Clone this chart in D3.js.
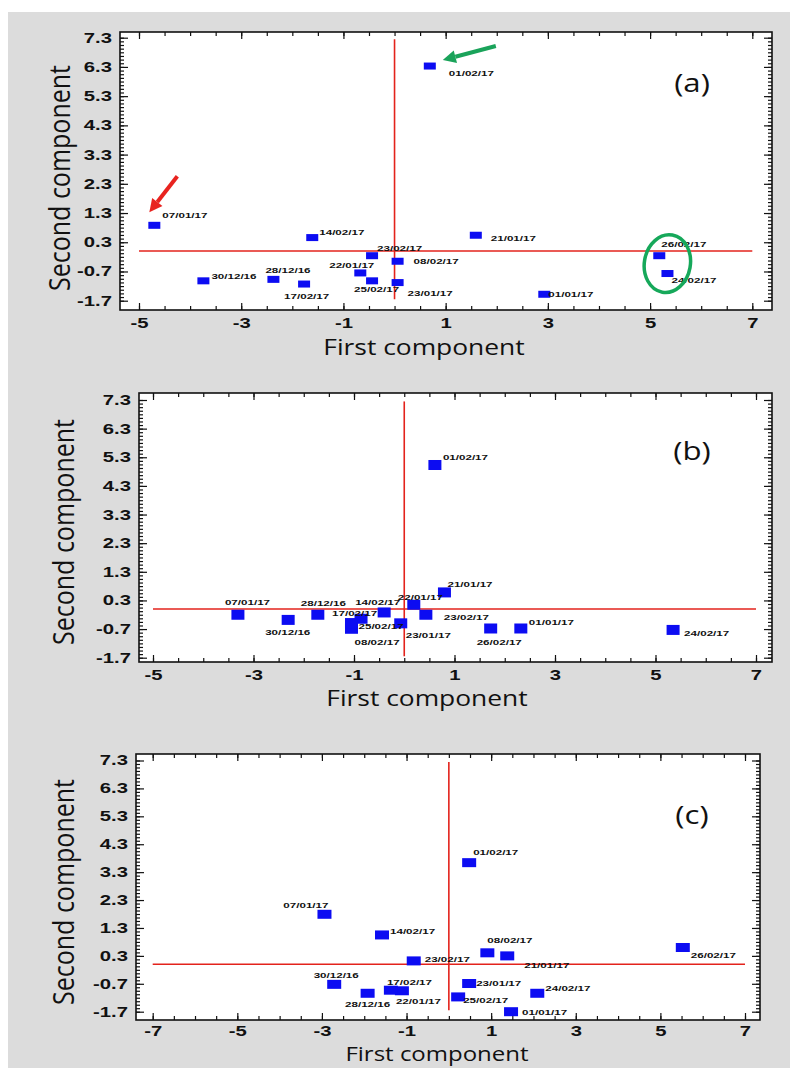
<!DOCTYPE html>
<html>
<head>
<meta charset="utf-8">
<style>
  body { margin: 0; background: #fff; }
  svg text { fill: #111; }
  .tick text { font-family: "Liberation Sans", Arial, sans-serif; font-weight: bold; font-size: 14px; }
  .tick line { stroke: #111; stroke-width: 1.2px; }
  .lbl { font-family: "Liberation Sans", Arial, sans-serif; font-weight: bold; font-size: 8px; }
  .title { font-family: "Open Sans", sans-serif; }
</style>
</head>
<body>
<div id="chart"></div>
<script src="https://cdnjs.cloudflare.com/ajax/libs/d3/7.8.5/d3.min.js"></script>
<script>
// sampling dates (same order in every panel)
var dates = ["07/01/17", "14/02/17", "21/01/17", "23/02/17", "08/02/17", "22/01/17", "30/12/16", "28/12/16",
             "17/02/17", "25/02/17", "23/01/17", "01/01/17", "26/02/17", "24/02/17", "01/02/17"];

// (a)
var xA = [-4.70, -1.61, 1.59, -0.44, 0.06, -0.67, -3.74, -2.37, -1.77, -0.44, 0.06, 2.93, 5.18, 5.34, 0.69];
var yA = [0.88, 0.46, 0.54, -0.16, -0.35, -0.75, -1.02, -0.97, -1.13, -1.02, -1.08, -1.48, -0.16, -0.77, 6.33];
// (b)
var xB = [-3.31, -0.40, 0.80, 0.43, -1.05, 0.19, -2.31, -1.72, -0.86, -1.05, -0.07, 2.32, 1.72, 5.35, 0.61];
var yB = [-0.20, -0.12, 0.58, -0.20, -0.69, 0.15, -0.38, -0.20, -0.34, -0.49, -0.50, -0.68, -0.68, -0.73, 5.03];
// (c)
var xC = [-2.94, -1.58, 1.38, -0.83, 0.91, -1.11, -2.71, -1.92, -1.37, 0.22, 0.48, 1.47, 5.53, 2.09, 0.48];
var yC = [1.79, 1.05, 0.30, 0.12, 0.41, -0.95, -0.72, -1.04, -0.93, -1.17, -0.69, -1.70, 0.60, -1.04, 3.64];

var xTicksAB = [-5, -3, -1, 1, 3, 5, 7];
var xTicksC = [-7, -5, -3, -1, 1, 3, 5, 7];
var yTicks = [7.3, 6.3, 5.3, 4.3, 3.3, 2.3, 1.3, 0.3, -0.7, -1.7];
var xTitle = "First component", yTitle = "Second component";

// label placement [dx, dy, anchor] per point
var offA = [[8,-10],[7,-5],[15,3],[5,-8],[16,0],[14,-8,"end"],[8,-5],[-8,-9],[-20,12],[-18,8],[10,11],[4,0],[2,-12],[4,7],[19,7]];
var offB = [[-13,-13],[-29,-10],[3,-8],[18,2],[3,13],[-16,-8],[-23,12],[-17,-12],[-29,-6],[7,3],[5,12],[8,-6],[-14,14],[11,3],[8,-8]];
var offC = [[4,-9,"end"],[8,-4],[17,9],[11,-2],[0,-13],[-6,10],[2,-9,"middle"],[0,11,"middle"],[-4,-8],[5,3],[7,0],[11,0],[8,8],[8,-5],[4,-10]];

var width = 806, height = 1068,
    SX = 1.45,   // horizontal stretch of the small bold text
    ST = 1.2;    // stretch of titles

var svg = d3.select("#chart").append("svg")
    .attr("width", width)
    .attr("height", height);

svg.append("rect").attr("x", 8).attr("y", 12).attr("width", 782).attr("height", height - 12).attr("fill", "#dcdcdc");

var panels = [
  {tag: "(a)", xs: xA, ys: yA, offs: offA, xt: xTicksAB, box: [120, 32, 772, 310], xr: [139, 752.3], yr: [37.7, 300.7],
   mk: [12, 7], pad: 8, xT: [424, 347, 22], yT: [70, 178], tagPos: [692, 83]},
  {tag: "(b)", xs: xB, ys: yB, offs: offB, xt: xTicksAB, box: [139, 393, 772, 662], xr: [153, 756], yr: [400, 657.7],
   mk: [13, 10], pad: 8, xT: [427, 698, 22], yT: [74, 532], tagPos: [692, 451]},
  {tag: "(c)", xs: xC, ys: yC, offs: offC, xt: xTicksC, box: [136, 754, 760, 1020], xr: [152.7, 745], yr: [760.5, 1011.7],
   mk: [14, 9], pad: 6, xT: [437, 1054, 20], yT: [74, 892], tagPos: [692, 815]}
];

panels.forEach(drawPanel);

function drawPanel(p) {
  var x0 = p.xt[0], x1 = p.xt[p.xt.length - 1];
  var x = d3.scaleLinear().domain([x0, x1]).range(p.xr);
  var y = d3.scaleLinear().domain([7.3, -1.7]).range(p.yr);
  var b = p.box;
  var g = svg.append("g");

  g.append("rect")
    .attr("x", b[0]).attr("y", b[1])
    .attr("width", b[2] - b[0]).attr("height", b[3] - b[1])
    .attr("fill", "#fff");

  // red zero lines
  g.append("line")
    .attr("x1", x(0)).attr("x2", x(0))
    .attr("y1", y(7.25)).attr("y2", y(-1.65))
    .attr("stroke", "#e3231c").attr("stroke-width", 1.6);
  g.append("line")
    .attr("x1", x(x0)).attr("x2", x(x1))
    .attr("y1", y(0)).attr("y2", y(0))
    .attr("stroke", "#e3231c").attr("stroke-width", 1.4);

  var xMinor = d3.range(x0, x1 + 0.01, 0.5);
  var yMinor = d3.range(0, 73).map(function (i) { return -1.7 + i * 0.125; });

  function addAxis(gen, tx, ty) {
    var a = g.append("g").attr("transform", "translate(" + tx + "," + ty + ")").call(gen);
    a.select(".domain").remove();
    return a;
  }

  addAxis(d3.axisBottom(x).tickValues(xMinor).tickSize(-4).tickFormat(""), 0, b[3]);
  addAxis(d3.axisBottom(x).tickValues(p.xt).tickSize(-7).tickPadding(p.pad).tickFormat(String), 0, b[3])
    .selectAll("text").attr("transform", "scale(" + SX + ",1)");
  addAxis(d3.axisTop(x).tickValues(xMinor).tickSize(-4).tickFormat(""), 0, b[1]);
  addAxis(d3.axisTop(x).tickValues(p.xt).tickSize(-7).tickFormat(""), 0, b[1]);
  addAxis(d3.axisLeft(y).tickValues(yMinor).tickSize(-4).tickFormat(""), b[0], 0);
  addAxis(d3.axisLeft(y).tickValues(yTicks).tickSize(-8).tickFormat(String), b[0], 0)
    .selectAll("text").attr("x", -8 / SX).attr("transform", "scale(" + SX + ",1)");
  addAxis(d3.axisRight(y).tickValues(yMinor).tickSize(-4).tickFormat(""), b[2], 0);
  addAxis(d3.axisRight(y).tickValues(yTicks).tickSize(-8).tickFormat(""), b[2], 0);

  var pts = dates.map(function (d, i) {
    return {date: d, x: p.xs[i], y: p.ys[i], off: p.offs[i]};
  });

  g.selectAll("rect.mk")
    .data(pts)
    .join("rect")
    .attr("class", "mk")
    .attr("x", function (d) { return x(d.x) - p.mk[0] / 2; })
    .attr("y", function (d) { return y(d.y) - p.mk[1] / 2; })
    .attr("width", p.mk[0])
    .attr("height", p.mk[1])
    .attr("fill", "#0c0cf2");

  g.selectAll("text.lbl")
    .data(pts)
    .join("text")
    .attr("class", "lbl")
    .attr("transform", function (d) {
      return "translate(" + (x(d.x) + d.off[0]) + "," + (y(d.y) + d.off[1]) + ") scale(" + SX + ",1)";
    })
    .attr("dy", "0.35em")
    .attr("text-anchor", function (d) { return d.off[2] || "start"; })
    .text(function (d) { return d.date; });

  g.append("rect")
    .attr("x", b[0]).attr("y", b[1])
    .attr("width", b[2] - b[0]).attr("height", b[3] - b[1])
    .attr("fill", "none").attr("stroke", "#111").attr("stroke-width", 1.6);

  g.append("text").attr("class", "title")
    .attr("transform", "translate(" + p.xT[0] + "," + p.xT[1] + ") scale(" + ST + ",1)")
    .attr("text-anchor", "middle").attr("dy", "0.35em")
    .style("font-size", p.xT[2] + "px")
    .text(xTitle);

  g.append("text").attr("class", "title")
    .attr("transform", "translate(" + p.yT[0] + "," + p.yT[1] + ") rotate(-90) scale(1," + ST + ")")
    .attr("text-anchor", "middle")
    .style("font-size", "25px")
    .text(yTitle);

  g.append("text").attr("class", "title")
    .attr("transform", "translate(" + p.tagPos[0] + "," + p.tagPos[1] + ") scale(" + ST + ",1)")
    .attr("text-anchor", "middle").attr("dy", "0.35em")
    .style("font-size", "26px")
    .text(p.tag);

  p.x = x; p.y = y; p.g = g;
}

// annotations on (a)
var pa = panels[0];
function at(name) {
  var i = dates.indexOf(name);
  return [pa.x(xA[i]), pa.y(yA[i])];
}

function arrow(tail, tip, color) {
  var ang = Math.atan2(tip[1] - tail[1], tip[0] - tail[0]),
      len = 13, half = 6.5;
  var bx = tip[0] - len * Math.cos(ang), by = tip[1] - len * Math.sin(ang);
  pa.g.append("line")
    .attr("x1", tail[0]).attr("y1", tail[1]).attr("x2", bx).attr("y2", by)
    .attr("stroke", color).attr("stroke-width", 4);
  pa.g.append("polygon")
    .attr("points", [
      tip,
      [bx + half * Math.sin(ang), by - half * Math.cos(ang)],
      [bx - half * Math.sin(ang), by + half * Math.cos(ang)]
    ].map(function (q) { return q.join(","); }).join(" "))
    .attr("fill", color);
}

var p07 = at("07/01/17");
arrow([p07[0] + 23, p07[1] - 49], [p07[0] - 5, p07[1] - 13], "#e8231f");
var p01 = at("01/02/17");
arrow([p01[0] + 66, p01[1] - 20], [p01[0] + 13, p01[1] - 6], "#1aa35a");

var p26 = at("26/02/17"), p24 = at("24/02/17");
var ec = [(p26[0] + p24[0]) / 2 + 4, (p26[1] + p24[1]) / 2 - 1];
pa.g.append("ellipse")
  .attr("transform", "translate(" + ec[0] + "," + ec[1] + ") rotate(10)")
  .attr("rx", 23).attr("ry", 29)
  .attr("fill", "none").attr("stroke", "#16a85a").attr("stroke-width", 3.5);
</script>
</body>
</html>
